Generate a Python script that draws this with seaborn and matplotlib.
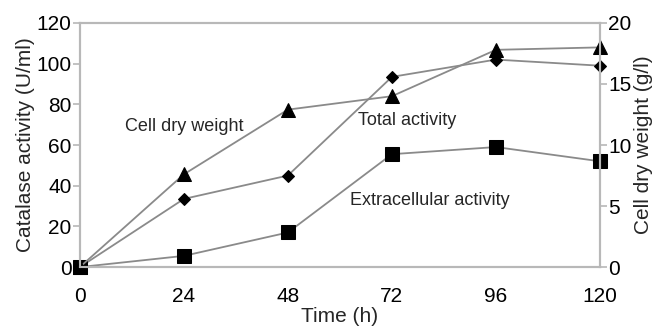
import matplotlib
matplotlib.use("Agg")
import matplotlib.pyplot as plt
import pandas as pd
import seaborn as sns

# data
time_h = [0, 24, 48, 72, 96, 120]
total_activity = [0, 33.5, 45, 93.5, 102, 99]
extracellular_activity = [0, 5.5, 17, 55.5, 59, 52]
cell_dry_weight = [0, 7.6, 12.9, 14.0, 17.8, 18.0]

sns.set_style("white")
plt.rcParams['font.family'] = ['Liberation Sans', 'DejaVu Sans']

df = pd.DataFrame({"time": time_h, "total": total_activity,
                   "extra": extracellular_activity, "cdw": cell_dry_weight})

fig = plt.figure(figsize=(6.6, 3.33), dpi=100)
ax = fig.add_axes([0.121, 0.198, 0.788, 0.733])
ax2 = ax.twinx()

line_kw = dict(color="#8a8a8a", linewidth=1.3, markeredgecolor="black",
               markerfacecolor="black")
sns.lineplot(data=df, x="time", y="total", ax=ax, marker="D", markersize=6.5, **line_kw)
sns.lineplot(data=df, x="time", y="extra", ax=ax, marker="s", markersize=10, **line_kw)
sns.lineplot(data=df, x="time", y="cdw", ax=ax2, marker="^", markersize=10, **line_kw)

ax.set_xlim(0, 120)
ax.set_ylim(0, 120)
ax2.set_ylim(0, 20)
ax.set_xticks(time_h)
ax.set_yticks(range(0, 121, 20))
ax2.set_yticks(range(0, 21, 5))

ax.set_xlabel("Time (h)", fontsize=15, labelpad=1)
ax.set_ylabel("Catalase activity (U/ml)", fontsize=15, labelpad=1)
ax2.set_ylabel("Cell dry weight (g/l)", fontsize=15, labelpad=2)

for a in (ax, ax2):
    for s in a.spines.values():
        s.set_color("#b8b8b8")
        s.set_linewidth(1.5)
    a.tick_params(axis="y", labelsize=15, colors="#b8b8b8", labelcolor="black",
                  length=5, width=1.2, direction="out", pad=1)
ax.tick_params(axis="x", labelsize=15, colors="#b8b8b8", labelcolor="black",
               length=8, width=1.2, direction="out", pad=6)
for l in ax.lines + ax2.lines:
    l.set_clip_on(False)

ax.text(24, 69, "Cell dry weight", fontsize=13, ha="center", va="center")
ax.text(75.5, 72, "Total activity", fontsize=13, ha="center", va="center")
ax.text(80.8, 32.5, "Extracellular activity", fontsize=13, ha="center", va="center")

fig.savefig("out.png", dpi=100)
